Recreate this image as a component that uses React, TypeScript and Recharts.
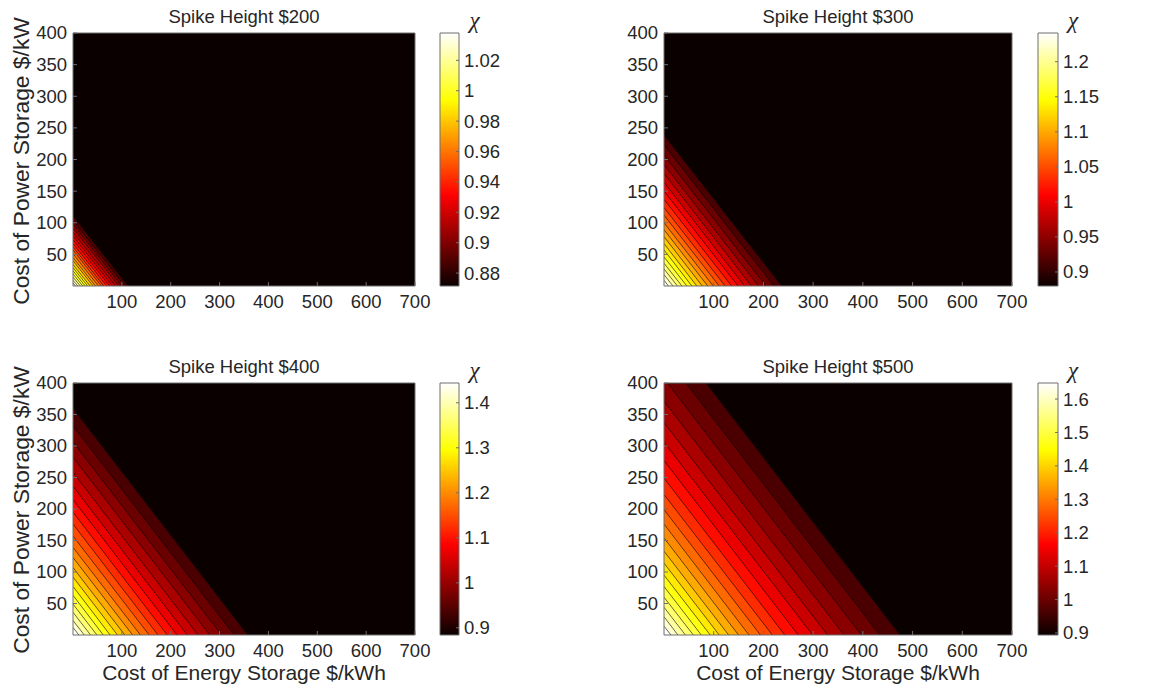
import React from "react";
import { ComposedChart, Area, XAxis, YAxis, ReferenceArea } from "recharts";

// ---------- data ----------
const xTicks = [100, 200, 300, 400, 500, 600, 700];
const yTicks = [50, 100, 150, 200, 250, 300, 350, 400];
const titles = ["Spike Height $200", "Spike Height $300", "Spike Height $400", "Spike Height $500"];

// contour levels of chi (one contour line per level) and the intercepts of each line
const levels200 = [0.8794, 0.8874, 0.8953, 0.9032, 0.9111, 0.9191, 0.927, 0.9349, 0.9429, 0.9508, 0.9587, 0.9666, 0.9746, 0.9825, 0.9904, 0.9984, 1.0063, 1.0142, 1.0221, 1.0301];
const xInt200 = [113, 106, 100, 94, 87, 81, 75, 69, 63, 58, 52, 46, 41, 35, 30, 25, 20, 15, 10, 5];
const yInt200 = [111, 104, 98, 92, 85, 79, 73, 67, 62, 57, 51, 45, 40, 34, 29, 24, 19, 14, 9, 5];
const range200 = [0.8715, 1.038];
const cbTicks200 = [0.88, 0.9, 0.92, 0.94, 0.96, 0.98, 1, 1.02];

const levels300 = [0.8972, 0.9144, 0.9316, 0.9488, 0.966, 0.9831, 1.0003, 1.0175, 1.0347, 1.0519, 1.0691, 1.0863, 1.1035, 1.1207, 1.1379, 1.155, 1.1722, 1.1894, 1.2066, 1.2238];
const xInt300 = [237, 221, 205, 190, 176, 162, 149, 136, 123, 111, 99, 88, 77, 66, 56, 46, 36, 27, 18, 9];
const yInt300 = [239, 223, 207, 192, 178, 164, 150, 137, 124, 112, 100, 89, 78, 67, 57, 46, 36, 27, 18, 9];
const range300 = [0.88, 1.241];
const cbTicks300 = [0.9, 0.95, 1, 1.05, 1.1, 1.15, 1.2];

const levels400 = [0.9107, 0.9373, 0.964, 0.9907, 1.0173, 1.044, 1.0707, 1.0973, 1.124, 1.1507, 1.1773, 1.204, 1.2307, 1.2573, 1.284, 1.3107, 1.3373, 1.364, 1.3907, 1.4173];
const xInt400 = [358, 330, 304, 280, 256, 234, 213, 193, 174, 156, 138, 122, 106, 91, 76, 62, 49, 36, 23, 12];
const yInt400 = [360, 332, 306, 282, 258, 236, 215, 195, 176, 157, 139, 123, 107, 92, 77, 63, 49, 36, 23, 12];
const range400 = [0.884, 1.444];
const cbTicks400 = [0.9, 1, 1.1, 1.2, 1.3, 1.4];

const levels500 = [0.9299, 0.9658, 1.0017, 1.0376, 1.0735, 1.1094, 1.1453, 1.1812, 1.2171, 1.2531, 1.289, 1.3249, 1.3608, 1.3967, 1.4326, 1.4685, 1.5044, 1.5403, 1.5762, 1.6121];
const xInt500 = [475, 434, 397, 362, 329, 299, 270, 243, 218, 194, 171, 150, 130, 111, 93, 75, 59, 43, 28, 14];
const yInt500 = [487, 445, 407, 371, 337, 306, 277, 249, 223, 199, 176, 154, 133, 114, 95, 77, 60, 44, 29, 14];
const range500 = [0.894, 1.648];
const cbTicks500 = [0.9, 1, 1.1, 1.2, 1.3, 1.4, 1.5, 1.6];

const X_MAX = 700;
const Y_MAX = 400;

// ---------- layout / style ----------
const W = 1149;
const H = 690;
const FONT = '"Liberation Sans", Arial, Helvetica, sans-serif';
const TXT = "#262626";
const FRAME = "#6e6e6e";

const panels = [
  { title: titles[0], levels: levels200, xi: xInt200, yi: yInt200, range: range200, cb: cbTicks200, L: 73, R: 415, T: 33, B: 286, cL: 440, cR: 459, ylabel: true, xlabel: false },
  { title: titles[1], levels: levels300, xi: xInt300, yi: yInt300, range: range300, cb: cbTicks300, L: 664, R: 1012, T: 33, B: 286, cL: 1038, cR: 1058, ylabel: false, xlabel: false },
  { title: titles[2], levels: levels400, xi: xInt400, yi: yInt400, range: range400, cb: cbTicks400, L: 73, R: 415, T: 383, B: 635, cL: 440, cR: 459, ylabel: true, xlabel: true },
  { title: titles[3], levels: levels500, xi: xInt500, yi: yInt500, range: range500, cb: cbTicks500, L: 664, R: 1012, T: 383, B: 635, cL: 1038, cR: 1058, ylabel: false, xlabel: true },
];

// MATLAB "hot" colormap, 64 entries
function hot(t: number): string {
  const i = Math.min(64, Math.max(1, Math.floor(t * 64) + 1));
  const c = (v: number) => Math.round(255 * Math.min(1, Math.max(0, v)));
  return `rgb(${c(i / 24)},${c((i - 24) / 24)},${c((i - 48) / 16)})`;
}

// polygon (under a contour line) clipped to the plot box
function bandPoints(xi: number, yi: number) {
  const pts: { x: number; y: number }[] = [];
  if (yi > Y_MAX) {
    pts.push({ x: 0, y: Y_MAX });
    pts.push({ x: xi * (1 - Y_MAX / yi), y: Y_MAX });
  } else {
    pts.push({ x: 0, y: yi });
  }
  if (xi > X_MAX) {
    pts.push({ x: X_MAX, y: yi * (1 - X_MAX / xi) });
  } else {
    pts.push({ x: xi, y: 0 });
  }
  return pts;
}

const BottomTick = (props: any) => {
  const { x, y, payload } = props;
  const ay = y - 9;
  return (
    <g>
      <line x1={x} x2={x} y1={ay} y2={ay - 4} stroke={FRAME} strokeWidth={1} />
      <text x={x} y={y} dy="0.71em" textAnchor="middle" fontSize={18.5} fill={TXT} fontFamily={FONT}>
        {payload.value}
      </text>
    </g>
  );
};

const LeftTick = (props: any) => {
  const { x, y, payload } = props;
  const ax = x + 6;
  return (
    <g>
      <line x1={ax} x2={ax + 4} y1={y} y2={y} stroke={FRAME} strokeWidth={1} />
      <text x={x} y={y} dy="0.35em" textAnchor="end" fontSize={18.5} fill={TXT} fontFamily={FONT}>
        {payload.value}
      </text>
    </g>
  );
};

const TopTick = (props: any) => {
  const { x, y } = props;
  return <line x1={x} x2={x} y1={y} y2={y + 4} stroke={FRAME} strokeWidth={1} />;
};

const RightTick = (props: any) => {
  const { x, y } = props;
  return <line x1={x - 4} x2={x} y1={y} y2={y} stroke={FRAME} strokeWidth={1} />;
};

const CbTick = (props: any) => {
  const { x, y, payload } = props;
  const ax = x - 5;
  return (
    <g>
      <line x1={ax - 3} x2={ax} y1={y} y2={y} stroke={FRAME} strokeWidth={1} />
      <text x={x} y={y} dy="0.35em" textAnchor="start" fontSize={18.5} fill={TXT} fontFamily={FONT}>
        {payload.value}
      </text>
    </g>
  );
};

function Panel({ p, idx }: { p: any; idx: number }) {
  const [mn, mx] = p.range;
  const YW = 60;
  const XH = 30;
  return (
    <div style={{ position: "absolute", left: 0, top: 0 }}>
      <ComposedChart
        width={W}
        height={H}
        margin={{ top: p.T, left: p.L - YW, right: W - p.R, bottom: H - p.B - XH }}
      >
        <XAxis
          type="number"
          dataKey="x"
          domain={[0, X_MAX]}
          ticks={xTicks}
          height={XH}
          axisLine={false}
          tickLine={false}
          tickSize={0}
          tickMargin={9}
          tick={<BottomTick />}
          allowDataOverflow
        />
        <XAxis
          xAxisId="top"
          orientation="top"
          type="number"
          domain={[0, X_MAX]}
          ticks={xTicks}
          height={0}
          axisLine={false}
          tickLine={false}
          tickSize={0}
          tickMargin={0}
          tick={<TopTick />}
          allowDataOverflow
        />
        <YAxis
          type="number"
          domain={[0, Y_MAX]}
          ticks={yTicks}
          width={YW}
          axisLine={false}
          tickLine={false}
          tickSize={0}
          tickMargin={6}
          tick={<LeftTick />}
          allowDataOverflow
        />
        <YAxis
          yAxisId="right"
          orientation="right"
          type="number"
          domain={[0, Y_MAX]}
          ticks={yTicks}
          width={0}
          axisLine={false}
          tickLine={false}
          tickSize={0}
          tickMargin={0}
          tick={<RightTick />}
          allowDataOverflow
        />
        <ReferenceArea x1={0} x2={X_MAX} y1={0} y2={Y_MAX} fill={hot(0)} fillOpacity={1} stroke="none" />
        {p.levels.map((lv: number, k: number) => {
          const upper = k + 1 < p.levels.length ? p.levels[k + 1] : mx;
          return (
            <Area
              key={`a${idx}-${k}`}
              data={bandPoints(p.xi[k], p.yi[k])}
              dataKey="y"
              type="linear"
              baseValue={0}
              fill={hot((upper - mn) / (mx - mn))}
              fillOpacity={1}
              stroke="#000"
              strokeWidth={0.6}
              dot={false}
              activeDot={false}
              isAnimationActive={false}
            />
          );
        })}
        <ReferenceArea x1={0} x2={X_MAX} y1={0} y2={Y_MAX} fill="none" stroke={FRAME} strokeWidth={1} />
      </ComposedChart>
    </div>
  );
}

function ColorBar({ p, idx }: { p: any; idx: number }) {
  const [mn, mx] = p.range;
  const YW = 60;
  const gid = `hotgrad${idx}`;
  const barData = [
    { x: 0, y: mx },
    { x: 1, y: mx },
  ];
  return (
    <div style={{ position: "absolute", left: 0, top: 0 }}>
      <ComposedChart
        width={W}
        height={H}
        data={barData}
        margin={{ top: p.T, left: p.cL, right: W - p.cR - YW, bottom: H - p.B }}
      >
        <defs>
          <linearGradient id={gid} x1="0" y1="1" x2="0" y2="0">
            <stop offset="0" stopColor={hot(0)} />
            <stop offset="0.36" stopColor="rgb(255,0,0)" />
            <stop offset="0.735" stopColor="rgb(255,255,0)" />
            <stop offset="1" stopColor="rgb(255,255,255)" />
          </linearGradient>
        </defs>
        <XAxis type="number" dataKey="x" domain={[0, 1]} hide />
        <YAxis
          orientation="right"
          type="number"
          domain={[mn, mx]}
          ticks={p.cb}
          width={YW}
          axisLine={false}
          tickLine={false}
          tickSize={0}
          tickMargin={5}
          tick={<CbTick />}
          allowDataOverflow
        />
        <Area
          dataKey="y"
          type="linear"
          baseValue={mn}
          fill={`url(#${gid})`}
          fillOpacity={1}
          stroke="none"
          dot={false}
          activeDot={false}
          isAnimationActive={false}
        />
        <ReferenceArea x1={0} x2={1} y1={mn} y2={mx} fill="none" stroke={FRAME} strokeWidth={1} />
      </ComposedChart>
    </div>
  );
}

export default function App() {
  return (
    <div
      style={{
        position: "absolute",
        left: 0,
        top: 0,
        width: W,
        height: H,
        background: "#fff",
        overflow: "hidden",
        fontFamily: FONT,
        color: TXT,
      }}
    >
      {panels.map((p, i) => (
        <Panel key={`p${i}`} p={p} idx={i} />
      ))}
      {panels.map((p, i) => (
        <ColorBar key={`c${i}`} p={p} idx={i} />
      ))}
      {panels.map((p, i) => (
        <div
          key={`t${i}`}
          style={{
            position: "absolute",
            left: (p.L + p.R) / 2 - 150,
            width: 300,
            top: p.T - 27,
            textAlign: "center",
            fontSize: 18.5,
            lineHeight: "22px",
            whiteSpace: "nowrap",
          }}
        >
          {p.title}
        </div>
      ))}
      {panels.map((p, i) => (
        <div
          key={`chi${i}`}
          style={{
            position: "absolute",
            left: (p.cL + p.cR) / 2 + 25 - 20,
            width: 40,
            top: p.T - 23,
            textAlign: "center",
            fontSize: 23,
            lineHeight: "22px",
            fontFamily: '"Liberation Serif", "DejaVu Serif", serif',
            fontStyle: "italic",
          }}
        >
          χ
        </div>
      ))}
      {panels
        .filter((p) => p.ylabel)
        .map((p, i) => (
          <div
            key={`yl${i}`}
            style={{
              position: "absolute",
              left: 21 - 200,
              width: 400,
              top: (p.T + p.B) / 2 + 1 - 14,
              height: 28,
              lineHeight: "28px",
              textAlign: "center",
              fontSize: 22.8,
              whiteSpace: "nowrap",
              transform: "rotate(-90deg)",
            }}
          >
            Cost of Power Storage $/kW
          </div>
        ))}
      {panels
        .filter((p) => p.xlabel)
        .map((p, i) => (
          <div
            key={`xl${i}`}
            style={{
              position: "absolute",
              left: (p.L + p.R) / 2 - 200,
              width: 400,
              top: 673 - 14,
              height: 28,
              lineHeight: "28px",
              textAlign: "center",
              fontSize: 21,
              whiteSpace: "nowrap",
            }}
          >
            Cost of Energy Storage $/kWh
          </div>
        ))}
    </div>
  );
}
